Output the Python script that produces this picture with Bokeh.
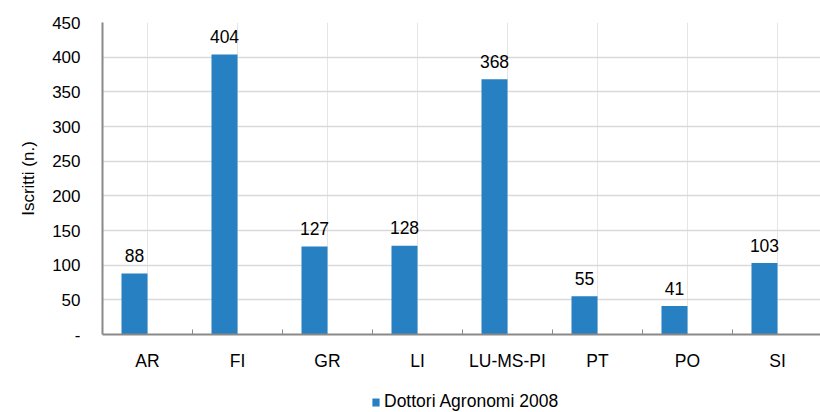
from bokeh.plotting import figure
from bokeh.layouts import column
from bokeh.models import (FactorRange, Range1d, LinearAxis, CategoricalAxis, FixedTicker,
                          Legend, LegendItem, ColumnDataSource, CustomJS, Grid)
from bokeh.transform import dodge
from bokeh.core.properties import value
from bokeh.document import Document
from bokeh.embed import file_html
from bokeh.resources import INLINE

# ---- data ----
categories = ["AR", "FI", "GR", "LI", "LU-MS-PI", "PT", "PO", "SI"]
values = [88, 404, 127, 128, 368, 55, 41, 103]
series_name = "Dottori Agronomi 2008"
y_ticks = [0, 50, 100, 150, 200, 250, 300, 350, 400, 450]
y_label = "Iscritti (n.)"

FONT = "Liberation Sans"
BAR = "#2680C2"
AXIS = "#898989"
GRID = "#D9D9D9"
VISIBLE_END = 7.978   # the reference crops the last category slightly

xr = FactorRange(factors=categories)

p = figure(x_range=xr, y_range=Range1d(0, 450), width=820, height=382,
           output_backend="svg", toolbar_location=None, x_axis_location=None,
           min_border_left=102, min_border_right=0, min_border_top=22, min_border_bottom=48)
p.outline_line_color = None

# y axis
ya = p.yaxis[0]
ya.ticker = FixedTicker(ticks=y_ticks)
ya.major_label_overrides = {0: "-"}
ya.major_tick_in = 0
ya.major_tick_out = 0
ya.minor_tick_line_color = None
ya.axis_line_color = AXIS
ya.axis_line_width = 2
ya.major_label_standoff = 22
ya.major_label_text_font = FONT
ya.major_label_text_font_size = "17px"
ya.major_label_text_color = "black"
ya.axis_label = y_label
ya.axis_label_text_font = FONT
ya.axis_label_text_font_size = "17px"
ya.axis_label_text_font_style = "normal"
ya.axis_label_text_color = "black"
ya.axis_label_standoff = 11

p.ygrid.ticker = FixedTicker(ticks=y_ticks)
p.ygrid.grid_line_color = GRID
p.ygrid.grid_line_width = 1.5

src = ColumnDataSource(dict(cat=categories, val=values, lab=[str(v) for v in values]))
bars = p.vbar(x=dodge("cat", -0.1444, range=xr), top="val", width=0.289, source=src,
              fill_color=BAR, line_color=None)
p.text(x=dodge("cat", -0.1444, range=xr), y="val", text="lab", source=src,
       text_align="center", text_baseline="alphabetic", y_offset=-18,
       text_font=value(FONT), text_font_size="17.5px", text_color="black")

# x axis: boundary ticks + category labels
boundaries = list(range(1, len(categories)))
tick_axis = LinearAxis(ticker=FixedTicker(ticks=boundaries),
                       major_label_overrides={b: "" for b in boundaries},
                       major_label_standoff=0,
                       major_tick_in=5, major_tick_out=0, minor_tick_line_color=None,
                       axis_line_color=AXIS, axis_line_width=2,
                       major_tick_line_color=AXIS, major_tick_line_width=1)
cat_axis = CategoricalAxis(major_tick_line_color=None, axis_line_color=None,
                           major_label_standoff=10, major_label_text_font=FONT,
                           major_label_text_font_size="17.5px", major_label_text_color="black")
p.add_layout(tick_axis, "below")
p.add_layout(cat_axis, "below")

# legend strip below the chart (its frame is aligned with the chart frame)
lp = figure(width=820, height=30, x_range=Range1d(0, 1), y_range=Range1d(0, 1),
            output_backend="svg", toolbar_location=None, min_border=0,
            x_axis_location=None, y_axis_location=None)
lp.outline_line_color = None
for r in list(lp.center):
    if isinstance(r, Grid):
        r.visible = False
# same series, drawn outside this strip's visible range: only its legend swatch shows
lr = lp.vbar(x="val", top="val", width=0.289, source=src, fill_color=BAR, line_color=None)
legend = Legend(items=[LegendItem(label=series_name, renderers=[lr])],
                location=(269, 0), orientation="horizontal",
                glyph_width=9, glyph_height=10, label_standoff=4, padding=0, margin=0,
                border_line_color=None, background_fill_alpha=0,
                label_text_font=FONT, label_text_font_size="17.5px", label_text_color="black")
lp.add_layout(legend, "center")

layout = column(p, lp, spacing=0)

doc = Document()
doc.add_root(layout)
doc.js_on_event("document_ready", CustomJS(args=dict(r=xr, e=VISIBLE_END),
                                           code="r.setv({start: 0, end: e});"))

open("out.html", "w").write(file_html(doc, INLINE))
